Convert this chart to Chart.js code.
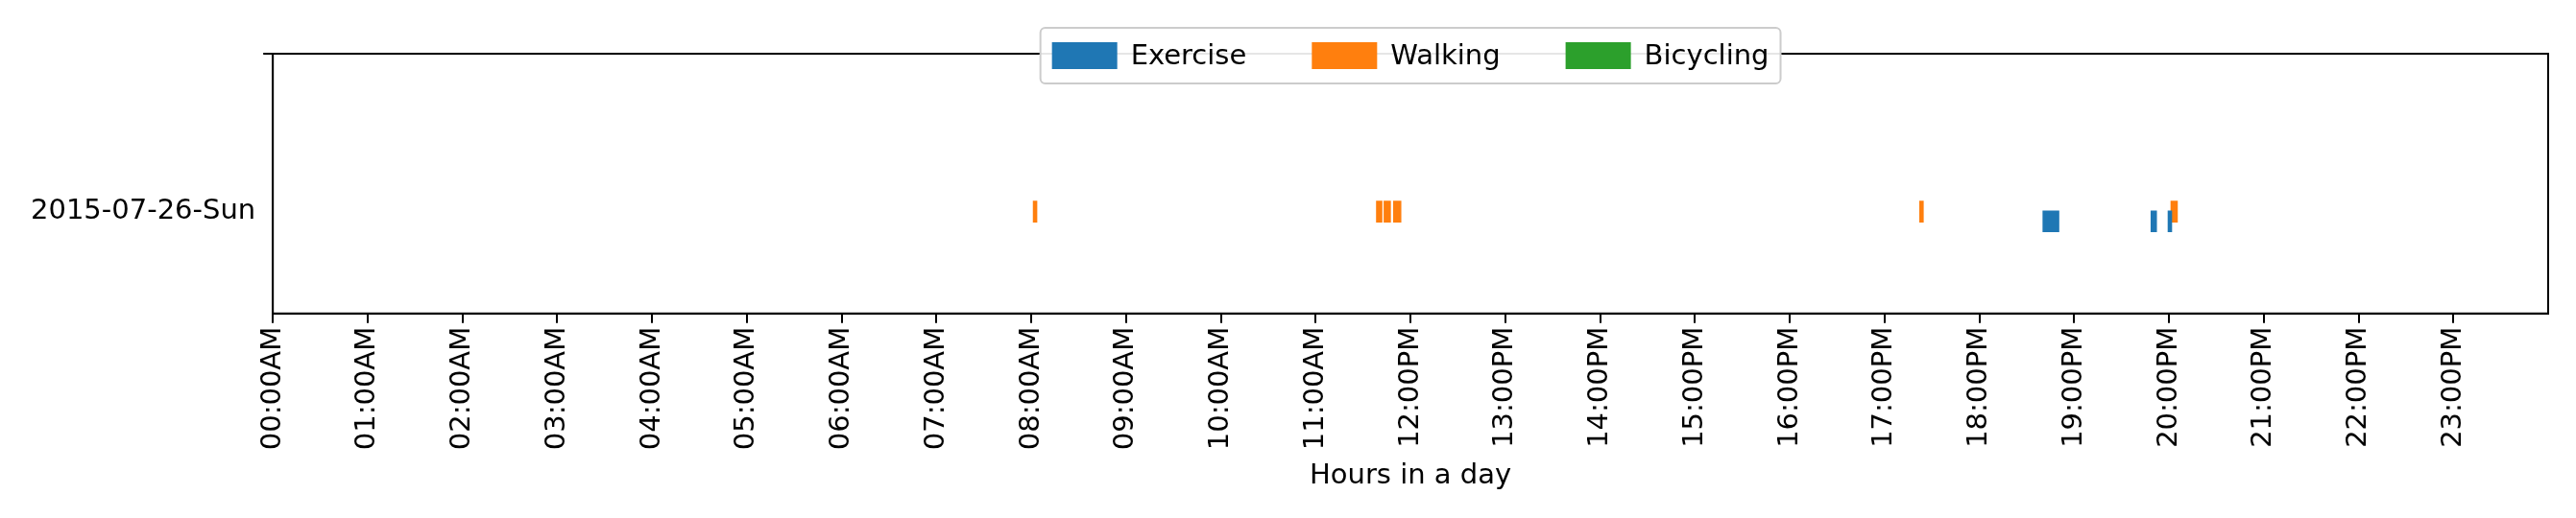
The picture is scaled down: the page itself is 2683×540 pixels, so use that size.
<!DOCTYPE html>
<html>
<head>
<meta charset="utf-8">
<script src="https://cdn.jsdelivr.net/npm/chart.js@4"></script>
<style>body{margin:0;background:#fff}</style>
</head>
<body>
<canvas id="c" width="2683" height="540"></canvas>
<script>
const dayLabel = "2015-07-26-Sun";
const hourLabels = ["00:00AM","01:00AM","02:00AM","03:00AM","04:00AM","05:00AM","06:00AM","07:00AM","08:00AM","09:00AM","10:00AM","11:00AM","12:00PM","13:00PM","14:00PM","15:00PM","16:00PM","17:00PM","18:00PM","19:00PM","20:00PM","21:00PM","22:00PM","23:00PM"];
const seriesNames = ["Exercise", "Walking", "Bicycling"];
const seriesColors = ["#1f77b4", "#ff7f0e", "#2ca02c"];
// [start hour, end hour]
const exerciseSpans = [[18.67, 18.84], [19.81, 19.87], [19.99, 20.03]];
const walkingSpans = [[8.02, 8.06], [11.64, 11.70], [11.72, 11.79], [11.82, 11.90], [17.37, 17.41], [20.02, 20.09]];
const bicyclingSpans = [];
const laneOffsets = [-0.77, 0, 0.77];

const allSpans = [exerciseSpans, walkingSpans, bicyclingSpans];
const datasets = allSpans.map((spans, i) => ({
    label: seriesNames[i],
    data: spans.map(s => ({ x: s, y: laneOffsets[i] })),
    backgroundColor: seriesColors[i],
    barThickness: 22,
    borderWidth: 0,
    grouped: false
}));

const F = "DejaVu Sans";
const FS = 29;

const framePlugin = {
    id: "frame",
    afterDraw(chart) {
        const { ctx, chartArea: a } = chart;
        ctx.save();
        ctx.strokeStyle = "#000";
        ctx.lineWidth = 2;
        ctx.strokeRect(a.left, a.top, a.right - a.left, a.bottom - a.top);
        // legend
        ctx.font = FS + "px " + F;
        const items = seriesNames.map(n => ({ n, w: ctx.measureText(n).width }));
        const boxW = 68, gap = 14, itemGap = 68, pad = 12;
        let total = pad * 2;
        items.forEach((it, i) => { total += boxW + gap + it.w + (i < items.length - 1 ? itemGap : 0); });
        const h = 58;
        const cx = (a.left + a.right) / 2;
        let x = cx - total / 2;
        const y = a.top - 27;
        ctx.fillStyle = "rgba(255,255,255,0.9)";
        ctx.strokeStyle = "#cccccc";
        ctx.lineWidth = 2;
        ctx.beginPath();
        ctx.roundRect(x, y, total, h, 5);
        ctx.fill();
        ctx.stroke();
        x += pad;
        ctx.textBaseline = "middle";
        items.forEach((it, i) => {
            ctx.fillStyle = seriesColors[i];
            ctx.fillRect(x, y + h / 2 - 14, boxW, 28);
            x += boxW + gap;
            ctx.fillStyle = "#000";
            ctx.fillText(it.n, x, y + h / 2 + 1);
            x += it.w + itemGap;
        });
        ctx.restore();
    }
};

new Chart(document.getElementById("c"), {
    type: "bar",
    data: { datasets },
    options: {
        indexAxis: "y",
        responsive: false,
        animation: false,
        devicePixelRatio: 1,
        layout: { padding: { top: 56, right: 29, bottom: 22, left: 24 } },
        plugins: { legend: { display: false }, tooltip: { enabled: false } },
        scales: {
            x: {
                type: "linear",
                min: 0,
                max: 24,
                afterBuildTicks: ax => { ax.ticks = hourLabels.map((_, i) => ({ value: i })); },
                ticks: {
                    autoSkip: false,
                    maxRotation: 90,
                    minRotation: 90,
                    padding: 4,
                    color: "#000",
                    font: { family: F, size: FS },
                    callback: v => hourLabels[v]
                },
                grid: { drawOnChartArea: false, tickLength: 10, lineWidth: 2,
                        color: c => (c.tick && c.tick.value < 24 ? "#000" : "rgba(0,0,0,0)") },
                border: { color: "#000", width: 2 },
                title: { display: true, text: "Hours in a day", color: "#000", padding: { top: 6 }, font: { family: F, size: FS } }
            },
            y: {
                type: "linear",
                min: -2.91,
                max: 7.32,
                afterBuildTicks: ax => { ax.ticks = [{ value: 0 }]; },
                ticks: { color: "#000", padding: 8, font: { family: F, size: FS }, callback: () => dayLabel },
                grid: { drawOnChartArea: false, tickLength: 10, lineWidth: 2,
                        color: c => (c.tick && c.tick.value === 0 ? "#000" : "rgba(0,0,0,0)") },
                border: { color: "#000", width: 2 }
            }
        }
    },
    plugins: [framePlugin]
});
</script>
</body>
</html>
